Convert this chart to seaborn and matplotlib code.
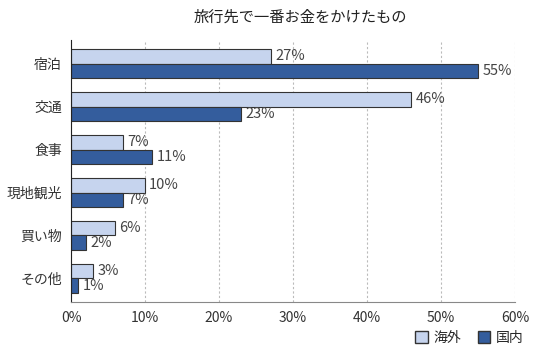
import matplotlib
matplotlib.use("Agg")
import matplotlib.pyplot as plt
import pandas as pd
import seaborn as sns
from matplotlib.patches import Patch

categories = ["宿泊", "交通", "食事", "現地観光", "買い物", "その他"]
kaigai = [27, 46, 7, 10, 6, 3]
kokunai = [55, 23, 11, 7, 2, 1]
series = ["海外", "国内"]
colors = ["#c6d4ee", "#345d9d"]
title = "旅行先で一番お金をかけたもの"

df = pd.DataFrame({
    "cat": categories * 2,
    "val": kaigai + kokunai,
    "grp": [series[0]] * len(categories) + [series[1]] * len(categories),
})

sns.set_style("white")
plt.rcParams['font.family'] = ['Noto Sans CJK JP', 'DejaVu Sans']

fig = plt.figure(figsize=(5.36, 3.52), dpi=100)
ax = fig.add_axes([0.1325, 0.142, 0.8285, 0.744])

sns.barplot(data=df, y="cat", x="val", hue="grp", orient="h", palette=colors,
            saturation=1, width=0.68, edgecolor="#333333", linewidth=0.8,
            ax=ax, legend=False)

for cont in ax.containers:
    ax.bar_label(cont, fmt="%d%%", padding=3, fontsize=10.5, color="#444444")

ax.set_xlim(0, 60)
ax.set_ylim(5.55, -0.55)
ax.set_xticks(range(0, 61, 10))
ax.set_xticklabels([f"{t}%" for t in range(0, 61, 10)], fontsize=10, color="#333333")
ax.tick_params(axis="y", labelsize=10, length=3, colors="#333333")
ax.tick_params(axis="x", length=3, color="#888888")
ax.set_xlabel("")
ax.set_ylabel("")
ax.xaxis.grid(True, linestyle=(0, (2, 2)), color="#bbbbbb", linewidth=0.8)
ax.set_axisbelow(True)
for s in ["top", "right"]:
    ax.spines[s].set_visible(False)
ax.spines["left"].set_color("#222222")
ax.spines["bottom"].set_color("#888888")

fig.text(0.56, 0.95, title, ha="center", va="center", fontsize=11, color="#222222")

handles = [Patch(facecolor=colors[i], edgecolor="#333333", label=series[i]) for i in range(2)]
fig.legend(handles=handles, loc="lower right", bbox_to_anchor=(1.0, -0.015), ncol=2,
           frameon=False, fontsize=10, handlelength=0.9, handleheight=0.9,
           handletextpad=0.4, columnspacing=1.2)

fig.savefig("out.png", dpi=100)
